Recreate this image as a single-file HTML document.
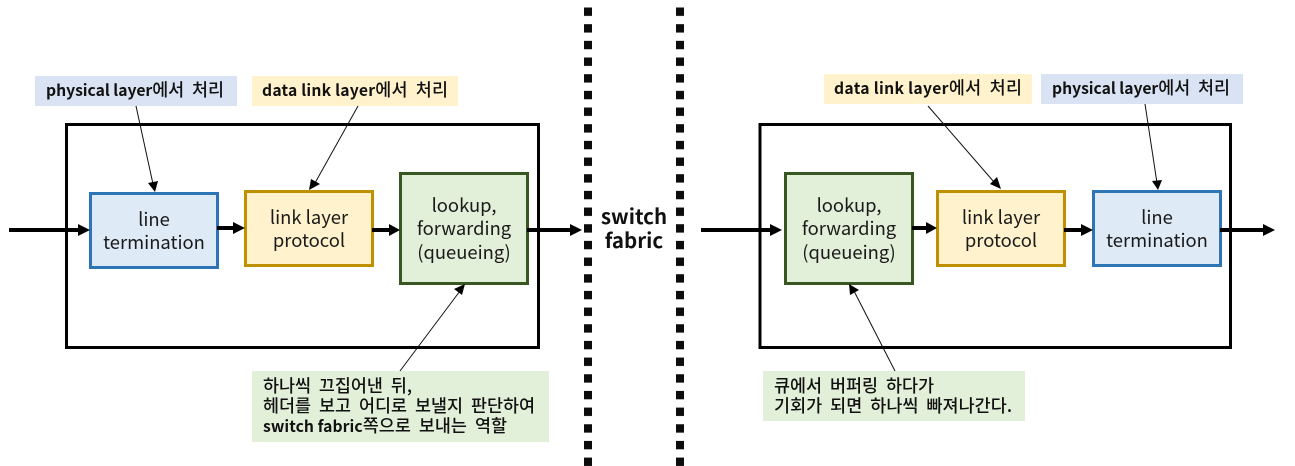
<!DOCTYPE html>
<html><head><meta charset="utf-8">
<style>
html,body{margin:0;padding:0;background:#fff;width:1295px;height:466px;overflow:hidden}
svg{display:block}
text{font-family:"Noto Sans CJK KR","NanumGothic",sans-serif;fill:#111}
.n{font-size:18.4px;text-anchor:middle;fill:#1a1a1a}
.l{font-size:17.4px;font-weight:500;word-spacing:4px}
.b{font-size:15.7px;font-weight:700;word-spacing:0}
.sf{font-size:20.5px;font-weight:700;text-anchor:middle}
</style></head><body>
<svg width="1295" height="466" viewBox="0 0 1295 466" xmlns="http://www.w3.org/2000/svg">
<defs>
<pattern id="d" x="0" y="7.5" width="8" height="16.67" patternUnits="userSpaceOnUse"><rect width="8" height="8.4" fill="#0c0c0c"/></pattern>
</defs>
<rect x="584" y="0" width="8" height="466" fill="url(#d)"/>
<rect x="676" y="0" width="8" height="466" fill="url(#d)"/>

<rect x="66.5" y="124.5" width="472" height="223" fill="none" stroke="#000" stroke-width="3"/>
<rect x="760" y="124.5" width="470.5" height="223" fill="none" stroke="#000" stroke-width="3"/>

<!-- label fills -->
<rect x="35" y="76" width="202" height="30" fill="#dae3f3"/>
<rect x="252" y="76" width="206" height="30" fill="#fff2cc"/>
<rect x="824" y="74" width="208" height="30" fill="#fff2cc"/>
<rect x="1041" y="74" width="202" height="30" fill="#dae3f3"/>
<rect x="252" y="371" width="297" height="71" fill="#e2f0d9"/>
<rect x="763" y="371" width="262" height="50" fill="#e2f0d9"/>

<!-- nodes -->
<rect x="90.5" y="193.5" width="127" height="74" fill="#deebf7" stroke="#2e75b6" stroke-width="3"/>
<rect x="245.5" y="191.5" width="127" height="74" fill="#fff2cc" stroke="#bf9000" stroke-width="3"/>
<rect x="400.5" y="173.5" width="127" height="110" fill="#e2efd9" stroke="#385723" stroke-width="3"/>
<rect x="785.5" y="173.5" width="127" height="110" fill="#e2efd9" stroke="#385723" stroke-width="3"/>
<rect x="937.5" y="191.5" width="127" height="74" fill="#fff2cc" stroke="#bf9000" stroke-width="3"/>
<rect x="1093.5" y="191.5" width="127" height="74" fill="#deebf7" stroke="#2e75b6" stroke-width="3"/>

<!-- thick arrows -->
<g fill="#000" stroke="none">
<rect x="9" y="228" width="70" height="4"/><path d="M78 224L90 230L78 236Z"/>
<rect x="217" y="226" width="17" height="4"/><path d="M233 222L245 228L233 234Z"/>
<rect x="372" y="228" width="18" height="4"/><path d="M389 224L400 230L389 236Z"/>
<rect x="527" y="228" width="44" height="4"/><path d="M570 224L582 230L570 236Z"/>
<rect x="701" y="228" width="70" height="4"/><path d="M770 224L782 230L770 236Z"/>
<rect x="912" y="226" width="15" height="4"/><path d="M926 222L937 228L926 234Z"/>
<rect x="1064" y="228" width="18" height="4"/><path d="M1081 224L1093 230L1081 236Z"/>
<rect x="1220" y="228" width="44" height="4"/><path d="M1263 224L1275 230L1263 236Z"/>
</g>

<!-- thin arrows -->
<g stroke="#111" stroke-width="1" fill="none">
<line x1="136" y1="106" x2="153" y2="184"/>
<line x1="358" y1="106" x2="315" y2="183"/>
<line x1="400" y1="371" x2="460" y2="291"/>
<line x1="928" y1="106" x2="994" y2="182"/>
<line x1="1145" y1="104" x2="1157" y2="183"/>
<line x1="895" y1="371" x2="854" y2="291"/>
</g>
<g fill="#000">
<path d="M155 192L148 183L158 181Z"/>
<path d="M309 190L311 179L320 184Z"/>
<path d="M465 284L462 295L454 289Z"/>
<path d="M1001 189L990 184L997 177Z"/>
<path d="M1158 190L1152 181L1162 180Z"/>
<path d="M849 284L859 290L850 295Z"/>
</g>

<!-- node labels -->
<text class="n" x="154" y="226">line</text>
<text class="n" x="154" y="249">termination</text>
<text class="n" x="309" y="224">link layer</text>
<text class="n" x="309" y="247">protocol</text>
<text class="n" x="464" y="212">lookup,</text>
<text class="n" x="464" y="235">forwarding</text>
<text class="n" x="464" y="259">(queueing)</text>
<text class="n" x="849" y="212">lookup,</text>
<text class="n" x="849" y="235">forwarding</text>
<text class="n" x="849" y="259">(queueing)</text>
<text class="n" x="1001" y="224">link layer</text>
<text class="n" x="1001" y="247">protocol</text>
<text class="n" x="1157" y="224">line</text>
<text class="n" x="1157" y="247">termination</text>

<text class="sf" x="634" y="224">switch</text>
<text class="sf" x="634" y="248">fabric</text>

<!-- callouts -->
<text class="l" x="46" y="96" textLength="178"><tspan class="b">physical layer</tspan>에서 처리</text>
<text class="l" x="262" y="96" textLength="186"><tspan class="b">data link layer</tspan>에서 처리</text>
<text class="l" x="834" y="94" textLength="188"><tspan class="b">data link layer</tspan>에서 처리</text>
<text class="l" x="1052" y="94" textLength="178"><tspan class="b">physical layer</tspan>에서 처리</text>
<text class="l" x="263" y="392" textLength="149">하나씩 끄집어낸 뒤,</text>
<text class="l" x="263" y="412" textLength="272">헤더를 보고 어디로 보낼지 판단하여</text>
<text class="l" x="263" y="432" textLength="244"><tspan class="b">switch fabric</tspan>쪽으로 보내는 역할</text>
<text class="l" x="774" y="392" textLength="160">큐에서 버퍼링 하다가</text>
<text class="l" x="774" y="412" textLength="238">기회가 되면 하나씩 빠져나간다.</text>
</svg>
</body></html>
